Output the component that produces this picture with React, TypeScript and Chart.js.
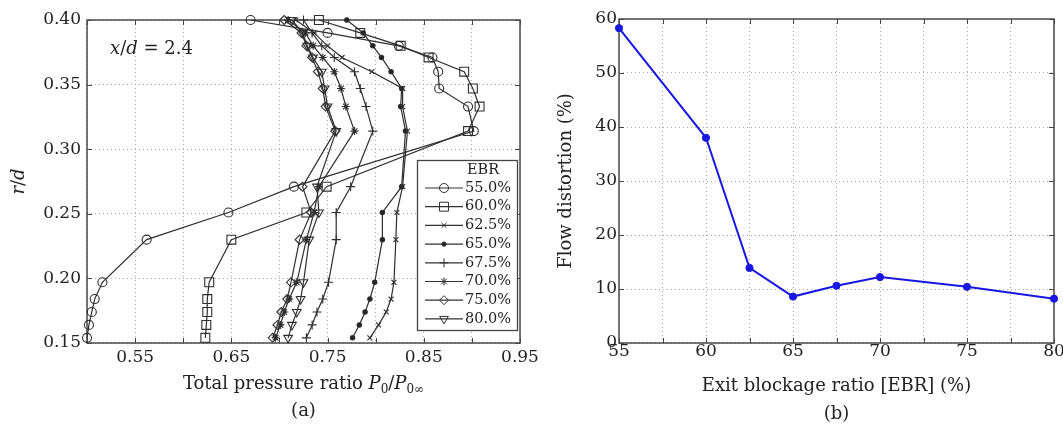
import React, { useEffect, useRef } from 'react';
import { Chart, registerables } from 'chart.js';
import { drawPoint } from 'chart.js/helpers';

Chart.register(...registerables);

const SERIF = '"DejaVu Serif", "Liberation Serif", serif';
const INK = '#222';

// ---------- Panel (a) data ----------
const R_LEVELS = [0.400, 0.390, 0.380, 0.371, 0.360, 0.347, 0.333, 0.314, 0.271, 0.251, 0.230, 0.197, 0.184, 0.174, 0.164, 0.154];
const EBR_LABELS = ['55.0%', '60.0%', '62.5%', '65.0%', '67.5%', '70.0%', '75.0%', '80.0%'];
const P_EBR55 = [0.670, 0.750, 0.824, 0.859, 0.865, 0.866, 0.896, 0.902, 0.715, 0.647, 0.562, 0.516, 0.508, 0.505, 0.502, 0.500];
const P_EBR60 = [0.741, 0.784, 0.826, 0.855, 0.892, 0.901, 0.908, 0.896, 0.749, 0.728, 0.650, 0.627, 0.625, 0.625, 0.624, 0.623];
const P_EBR625 = [0.717, 0.736, 0.750, 0.765, 0.796, 0.828, 0.828, 0.833, 0.828, 0.822, 0.821, 0.819, 0.816, 0.811, 0.803, 0.794];
const P_EBR65 = [0.770, 0.787, 0.797, 0.806, 0.816, 0.827, 0.826, 0.831, 0.827, 0.807, 0.807, 0.799, 0.794, 0.789, 0.783, 0.776];
const P_EBR675 = [0.725, 0.734, 0.744, 0.757, 0.778, 0.784, 0.790, 0.797, 0.774, 0.759, 0.759, 0.751, 0.745, 0.739, 0.734, 0.728];
const P_EBR70 = [0.709, 0.727, 0.735, 0.745, 0.757, 0.764, 0.769, 0.778, 0.741, 0.736, 0.728, 0.718, 0.710, 0.705, 0.701, 0.696];
const P_EBR75 = [0.705, 0.723, 0.728, 0.734, 0.740, 0.745, 0.748, 0.758, 0.724, 0.733, 0.721, 0.712, 0.708, 0.702, 0.698, 0.693];
const P_EBR80 = [0.713, 0.724, 0.729, 0.735, 0.744, 0.747, 0.750, 0.759, 0.739, 0.741, 0.731, 0.725, 0.722, 0.718, 0.713, 0.709];

// ---------- Panel (b) data ----------
const EBR_VALUES = [55, 60, 62.5, 65, 67.5, 70, 75, 80];
const FLOW_DISTORTION = [58.3, 38.0, 13.9, 8.6, 10.6, 12.2, 10.4, 8.2];

type Part = { t: string; f: string; dy?: number };

function drawRich(ctx: CanvasRenderingContext2D, parts: Part[], cx: number, cy: number, rotate = false, align: 'center' | 'left' = 'center') {
  ctx.save();
  ctx.translate(cx, cy);
  if (rotate) ctx.rotate(-Math.PI / 2);
  ctx.textBaseline = 'alphabetic';
  ctx.textAlign = 'left';
  ctx.fillStyle = INK;
  let total = 0;
  for (const p of parts) {
    ctx.font = p.f;
    total += ctx.measureText(p.t).width;
  }
  let x = align === 'center' ? -total / 2 : 0;
  for (const p of parts) {
    ctx.font = p.f;
    ctx.fillText(p.t, x, p.dy || 0);
    x += ctx.measureText(p.t).width;
  }
  ctx.restore();
}

const f = (size: number, italic = false) => `${italic ? 'italic ' : ''}${size}px ${SERIF}`;

const frameTicks = {
  id: 'frameTicks',
  beforeDatasetsDraw(chart: any) {
    const { ctx, chartArea: a } = chart;
    const xs = chart.scales.x;
    const ys = chart.scales.y;
    const tl = 5;
    ctx.save();
    ctx.strokeStyle = '#444';
    ctx.lineWidth = 1;
    ctx.beginPath();
    for (const t of xs.ticks) {
      const px = Math.round(xs.getPixelForValue(t.value)) + 0.5;
      ctx.moveTo(px, a.bottom);
      ctx.lineTo(px, a.bottom - tl);
      ctx.moveTo(px, a.top);
      ctx.lineTo(px, a.top + tl);
    }
    for (const t of ys.ticks) {
      const py = Math.round(ys.getPixelForValue(t.value)) + 0.5;
      ctx.moveTo(a.left, py);
      ctx.lineTo(a.left + tl, py);
      ctx.moveTo(a.right, py);
      ctx.lineTo(a.right - tl, py);
    }
    ctx.stroke();
    ctx.lineWidth = 1.5;
    ctx.strokeStyle = '#4a4a4a';
    ctx.strokeRect(a.left, a.top, a.right - a.left, a.bottom - a.top);
    ctx.restore();
  },
};

const legendA = {
  id: 'legendA',
  afterDatasetsDraw(chart: any) {
    const { ctx, chartArea: a } = chart;
    const x1 = a.right - 3;
    const x0 = x1 - 100;
    const y1 = a.bottom - 13;
    const y0 = y1 - 170;
    ctx.save();
    ctx.fillStyle = '#fff';
    ctx.fillRect(x0, y0, x1 - x0, y1 - y0);
    ctx.strokeStyle = '#444';
    ctx.lineWidth = 1.3;
    ctx.strokeRect(x0 + 0.5, y0 + 0.5, x1 - x0, y1 - y0);
    ctx.fillStyle = INK;
    ctx.font = f(14.5);
    ctx.textAlign = 'center';
    ctx.textBaseline = 'middle';
    ctx.fillText('EBR', x0 + 66, y0 + 10);
    chart.data.datasets.forEach((ds: any, i: number) => {
      const y = y0 + 28 + i * 18.7;
      ctx.strokeStyle = '#333';
      ctx.lineWidth = 1.2;
      ctx.beginPath();
      ctx.moveTo(x0 + 8, y);
      ctx.lineTo(x0 + 46, y);
      ctx.stroke();
      ctx.fillStyle = ds.pointBackgroundColor;
      ctx.strokeStyle = ds.pointBorderColor;
      ctx.lineWidth = 1;
      drawPoint(ctx, { pointStyle: ds.pointStyle, rotation: ds.pointRotation || 0, radius: ds.pointRadius, borderWidth: 1 }, x0 + 27, y);
      ctx.fillStyle = INK;
      ctx.font = f(14.5);
      ctx.textAlign = 'left';
      ctx.fillText(ds.label, x0 + 48, y);
    });
    ctx.restore();
  },
};

const textsA = {
  id: 'textsA',
  afterDraw(chart: any) {
    const { ctx, chartArea: a } = chart;
    const cx = (a.left + a.right) / 2;
    drawRich(ctx, [
      { t: 'Total pressure ratio ', f: f(18) },
      { t: 'P', f: f(18, true) },
      { t: '0', f: f(12), dy: 4 },
      { t: '/', f: f(18) },
      { t: 'P', f: f(18, true) },
      { t: '0∞', f: f(12), dy: 4 },
    ], cx, 389);
    drawRich(ctx, [{ t: '(a)', f: f(18) }], cx, 416);
    drawRich(ctx, [
      { t: 'r', f: f(18, true) },
      { t: '/', f: f(18) },
      { t: 'd', f: f(18, true) },
    ], 24, (a.top + a.bottom) / 2, true);
    drawRich(ctx, [
      { t: 'x', f: f(18, true) },
      { t: '/', f: f(18) },
      { t: 'd', f: f(18, true) },
      { t: ' = 2.4', f: f(18) },
    ], a.left + 23, 54, false, 'left');
  },
};

const textsB = {
  id: 'textsB',
  afterDraw(chart: any) {
    const { ctx, chartArea: a } = chart;
    const cx = (a.left + a.right) / 2;
    drawRich(ctx, [{ t: 'Exit blockage ratio [EBR] (%)', f: f(18) }], cx, 391);
    drawRich(ctx, [{ t: '(b)', f: f(18) }], cx, 419);
    drawRich(ctx, [{ t: 'Flow distortion (%)', f: f(18) }], 31, (a.top + a.bottom) / 2, true);
  },
};

const GRID = { color: 'rgba(140,140,140,0.7)', lineWidth: 1, drawTicks: false };
const BORDER = { display: false, dash: [1, 3] };
const TICKFONT = { family: SERIF, size: 17 };

const W_A = 560;
const W_B = 523;
const LEFT_B = 540;
const H = 426;

const LINE_A = '#2e2e2e';
const OPEN = 'rgba(0,0,0,0)';

function makeA(canvas: HTMLCanvasElement) {
  const series = [P_EBR55, P_EBR60, P_EBR625, P_EBR65, P_EBR675, P_EBR70, P_EBR75, P_EBR80];
  const styles = [
    { pointStyle: 'circle', pointRadius: 4.5, fill: OPEN, rot: 0 },
    { pointStyle: 'rect', pointRadius: 6.3, fill: OPEN, rot: 0 },
    { pointStyle: 'crossRot', pointRadius: 3.5, fill: OPEN, rot: 0 },
    { pointStyle: 'circle', pointRadius: 2.2, fill: '#222', rot: 0 },
    { pointStyle: 'cross', pointRadius: 4.5, fill: OPEN, rot: 0 },
    { pointStyle: 'star', pointRadius: 4, fill: '#222', rot: 0 },
    { pointStyle: 'rectRot', pointRadius: 4.5, fill: OPEN, rot: 0 },
    { pointStyle: 'triangle', pointRadius: 5, fill: OPEN, rot: 180 },
  ];
  const datasets = series.map((s, i) => ({
    label: EBR_LABELS[i],
    data: s.map((p, j) => ({ x: p, y: R_LEVELS[j] })),
    showLine: true,
    borderColor: LINE_A,
    borderWidth: 1.2,
    pointStyle: styles[i].pointStyle,
    pointRadius: styles[i].pointRadius,
    pointRotation: styles[i].rot,
    pointBackgroundColor: styles[i].fill,
    pointBorderColor: LINE_A,
    pointBorderWidth: 1.1,
    clip: false,
  }));
  return new Chart(canvas, {
    type: 'scatter',
    data: { datasets },
    options: {
      animation: false,
      responsive: false,
      events: [],
      layout: { padding: { top: 20, left: 0, right: W_A - 520, bottom: 0 } },
      plugins: { legend: { display: false }, tooltip: { enabled: false } },
      scales: {
        x: {
          type: 'linear',
          min: 0.5,
          max: 0.95,
          grid: GRID,
          border: BORDER,
          ticks: {
            stepSize: 0.05,
            autoSkip: false,
            maxRotation: 0,
            padding: 4,
            color: INK,
            font: TICKFONT,
            callback: (v: any) => {
              const k = Math.round(Number(v) * 100);
              return (k - 55) % 10 === 0 && k >= 55 ? Number(v).toFixed(2) : '';
            },
          },
          afterFit: (s: any) => { s.height = H - 343; s.paddingLeft = 0; s.paddingRight = 0; },
        },
        y: {
          type: 'linear',
          min: 0.15,
          max: 0.40,
          grid: GRID,
          border: BORDER,
          ticks: {
            stepSize: 0.05,
            autoSkip: false,
            padding: 6,
            color: INK,
            font: TICKFONT,
            callback: (v: any) => Number(v).toFixed(2),
          },
          afterFit: (s: any) => { s.width = 87; s.paddingTop = 0; s.paddingBottom = 0; },
        },
      },
    },
    plugins: [frameTicks, legendA, textsA],
  } as any);
}

function makeB(canvas: HTMLCanvasElement) {
  const BLUE = 'rgb(24,24,226)';
  return new Chart(canvas, {
    type: 'scatter',
    data: {
      datasets: [{
        label: 'Flow distortion',
        data: EBR_VALUES.map((e, i) => ({ x: e, y: FLOW_DISTORTION[i] })),
        showLine: true,
        borderColor: BLUE,
        borderWidth: 2,
        pointStyle: 'circle',
        pointRadius: 3.6,
        pointBackgroundColor: BLUE,
        pointBorderColor: BLUE,
        pointBorderWidth: 1,
        clip: false,
      }],
    },
    options: {
      animation: false,
      responsive: false,
      events: [],
      layout: { padding: { top: 19, left: 0, right: 9, bottom: 0 } },
      plugins: { legend: { display: false }, tooltip: { enabled: false } },
      scales: {
        x: {
          type: 'linear',
          min: 55,
          max: 80,
          grid: GRID,
          border: BORDER,
          ticks: {
            stepSize: 2.5,
            autoSkip: false,
            maxRotation: 0,
            padding: -2,
            color: INK,
            font: TICKFONT,
            callback: (v: any) => (Math.abs(Number(v) % 5) < 1e-6 ? String(v) : ''),
          },
          afterFit: (s: any) => { s.height = H - 343; s.paddingLeft = 0; s.paddingRight = 0; },
        },
        y: {
          type: 'linear',
          min: 0,
          max: 60,
          grid: GRID,
          border: BORDER,
          ticks: {
            stepSize: 10,
            autoSkip: false,
            padding: 2,
            color: INK,
            font: TICKFONT,
          },
          afterFit: (s: any) => { s.width = 619 - LEFT_B; s.paddingTop = 0; s.paddingBottom = 0; },
        },
      },
    },
    plugins: [frameTicks, textsB],
  } as any);
}

export default function App() {
  const refA = useRef<HTMLCanvasElement>(null);
  const refB = useRef<HTMLCanvasElement>(null);
  useEffect(() => {
    const a = makeA(refA.current!);
    const b = makeB(refB.current!);
    return () => { a.destroy(); b.destroy(); };
  }, []);
  return (
    <div style={{ position: 'fixed', left: 0, top: 0, width: 1063, height: H, background: '#fff', overflow: 'hidden' }}>
      <canvas ref={refA} width={W_A} height={H} style={{ position: 'absolute', left: 0, top: 0, width: W_A, height: H }} />
      <canvas ref={refB} width={W_B} height={H} style={{ position: 'absolute', left: LEFT_B, top: 0, width: W_B, height: H }} />
    </div>
  );
}
